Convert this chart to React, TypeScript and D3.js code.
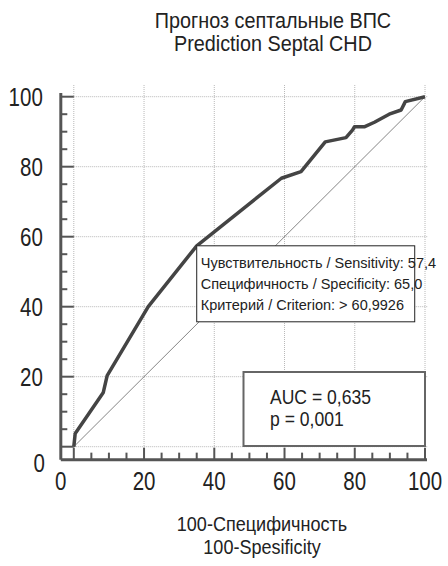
import * as d3 from 'd3';

// ROC curve points (100-Specificity, Sensitivity)
const rocX = [0, 0.4, 8.4, 9.5, 21.2, 35, 59.1, 64.7, 71.6, 77.5, 79.4, 79.9, 82.7, 85.6, 89.8, 93.2, 94.4, 100];
const rocY = [0, 3.8, 15.5, 20.3, 40, 57.4, 76.7, 78.6, 87.1, 88.3, 90.5, 91.4, 91.4, 92.7, 95, 96.2, 98.6, 100];

const majorTicks = [0, 20, 40, 60, 80, 100];
const minorTicks = d3.range(0, 101, 5);

const titleLines = ['Прогноз септальные ВПС', 'Prediction Septal CHD'];
const xTitleLines = ['100-Специфичность', '100-Spesificity'];
const criterionLines = [
  'Чувствительность / Sensitivity: 57,4',
  'Специфичность / Specificity: 65,0',
  'Критерий / Criterion: > 60,9926',
];
const criterionPoint = { x: 35, y: 57.4 };
const aucLines = ['AUC = 0,635', 'p = 0,001'];

const W = 448;
const H = 566;
const FONT = '"Liberation Sans", Arial, sans-serif';

// text squeezed horizontally to imitate a narrow face
function NText({ x, y, sx, size, anchor = 'start', children }: any) {
  return (
    <text
      transform={`translate(${x},${y}) scale(${sx},1)`}
      textAnchor={anchor}
      fontSize={size}
      fill="#222"
    >
      {children}
    </text>
  );
}

export default function App() {
  const x = d3.scaleLinear().domain([0, 100]).range([73.8, 425]);
  const y = d3.scaleLinear().domain([0, 100]).range([446.7, 96.7]);
  const axisMin = -3.7; // axes sit slightly outside the data origin

  const line = d3
    .line<number>()
    .x((_, i) => x(rocX[i]))
    .y((_, i) => y(rocY[i]));

  const ax = x(axisMin);
  const ay = y(axisMin);
  const grid = '#b8b8b8';
  const axisCol = '#555';

  return (
    <svg width={W} height={H} style={{ position: 'absolute', left: 0, top: 0, background: '#fff' }} fontFamily={FONT}>
      {/* title */}
      {titleLines.map((t, i) => (
        <NText key={t} x={273} y={28 + i * 23} sx={0.9} size={22} anchor="middle">{t}</NText>
      ))}

      {/* grid */}
      {majorTicks.map((v) => (
        <g key={'g' + v}>
          <line x1={x(v)} x2={x(v)} y1={85} y2={y(0)} stroke={grid} strokeDasharray="1,1" />
          <line x1={x(0)} x2={428} y1={y(v)} y2={y(v)} stroke={grid} strokeDasharray="1,1" />
        </g>
      ))}

      {/* diagonal */}
      <line x1={x(0)} y1={y(0)} x2={x(100)} y2={y(100)} stroke="#666" strokeWidth={0.8} />

      {/* ROC curve */}
      <path d={line(rocX) || ''} fill="none" stroke="#444" strokeWidth={3.5} strokeLinejoin="round" />

      {/* axes */}
      <line x1={ax} x2={ax} y1={93} y2={ay} stroke={axisCol} strokeWidth={3} />
      <line x1={ax} x2={427} y1={ay} y2={ay} stroke={axisCol} strokeWidth={3} />
      {minorTicks.map((v) => {
        const major = v % 20 === 0;
        return (
          <g key={'t' + v}>
            <line x1={ax} x2={major ? x(0) : ax + 6.5} y1={y(v)} y2={y(v)} stroke={axisCol} strokeWidth={2} />
            <line x1={x(v)} x2={x(v)} y1={ay} y2={major ? ay - 12 : ay - 7} stroke={axisCol} strokeWidth={2} />
          </g>
        );
      })}

      {/* tick labels */}
      {majorTicks.map((v) => (
        <g key={'l' + v}>
          <NText
            x={v === 0 ? ax - 16 : ax - 18}
            y={v === 0 ? ay + 12 : y(v) + 9}
            sx={0.82}
            size={25}
            anchor="end"
          >{v}</NText>
          <NText x={v === 0 ? ax : x(v)} y={490} sx={0.82} size={25} anchor="middle">{v}</NText>
        </g>
      ))}

      {/* x title */}
      {xTitleLines.map((t, i) => (
        <NText key={t} x={262} y={531 + i * 23} sx={0.86} size={21} anchor="middle">{t}</NText>
      ))}

      {/* criterion box */}
      <rect x={x(criterionPoint.x)} y={y(criterionPoint.y)} width={218} height={76} fill="#fff" stroke="#222" strokeWidth={1} />
      {criterionLines.map((t, i) => (
        <text key={t} x={x(criterionPoint.x) + 4} y={y(criterionPoint.y) + 22 + i * 21} fontSize={14.5} fill="#222">{t}</text>
      ))}

      {/* AUC box */}
      <rect x={243.5} y={372} width={181.5} height={74} fill="#fff" stroke="#666" strokeWidth={2} />
      {aucLines.map((t, i) => (
        <NText key={t} x={270} y={404 + i * 22} sx={0.9} size={19.5}>{t}</NText>
      ))}
    </svg>
  );
}
